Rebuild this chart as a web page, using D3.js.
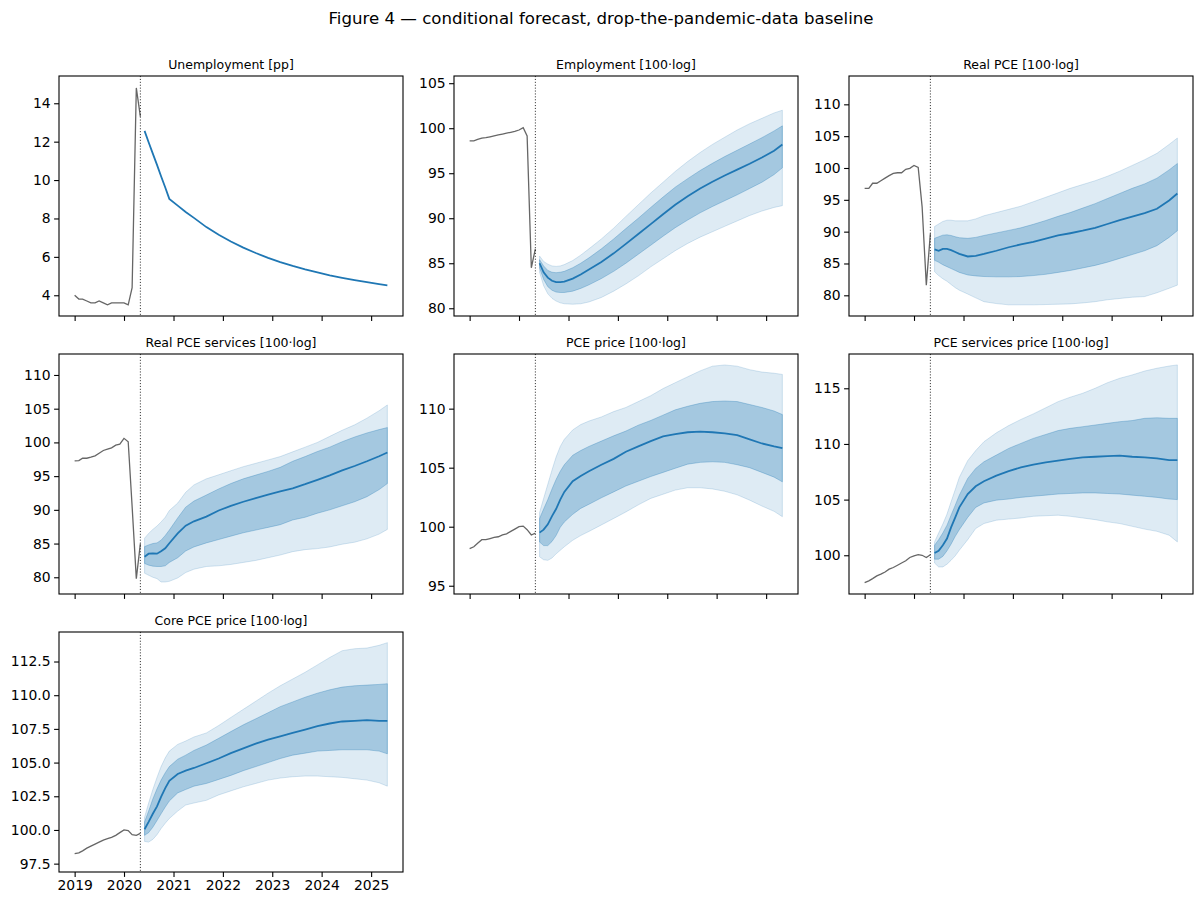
<!DOCTYPE html>
<html>
<head>
<meta charset="utf-8">
<script src="https://cdn.jsdelivr.net/npm/d3@7"></script>
<style>
  body { margin: 0; background: #fff; }
  text { font-family: "DejaVu Sans", sans-serif; fill: #000; }
</style>
</head>
<body>
<svg id="fig" width="1203" height="905"></svg>
<script>
// observed months, then the forecast months the values were read at
const histMonths = ["2019-01","2019-02","2019-03","2019-04","2019-05","2019-06","2019-07","2019-08","2019-09",
  "2019-10","2019-11","2019-12","2020-01","2020-02","2020-03","2020-04","2020-05"];
const fcMonths = ["2020-06","2020-07","2020-08","2020-09","2020-10","2020-11","2020-12","2021-02","2021-04",
  "2021-06","2021-09","2021-12","2022-03","2022-06","2022-09","2022-12","2023-03","2023-06","2023-09",
  "2023-12","2024-03","2024-06","2024-09","2024-12","2025-03","2025-05"];
const yearTicks = [2019, 2020, 2021, 2022, 2023, 2024, 2025];

// Unemployment (conditioned path, no bands)
const unempHist = [4.0,3.8,3.8,3.7,3.6,3.6,3.7,3.6,3.5,3.6,3.6,3.6,3.6,3.5,4.4,14.8,13.3];
const unempMed = [12.56,11.97,11.38,10.79,10.2,9.61,9.02,8.67,8.34,8.03,7.55,7.15,6.8,6.48,6.2,5.95,5.73,5.53,5.35,5.19,5.04,4.91,4.79,4.68,4.58,4.52];

// Employment
const emplHist = [98.6,98.6,98.75,98.9,98.95,99.05,99.15,99.25,99.35,99.45,99.55,99.65,99.8,100.05,99.15,84.5,86.6];
const emplLo2 = [84.0,82.5,81.6,81.1,80.8,80.6,80.5,80.45,80.5,80.7,81.2,81.9,82.7,83.6,84.6,85.5,86.4,87.2,87.9,88.5,89.1,89.7,90.3,90.8,91.2,91.4];
const emplLo1 = [84.5,83.2,82.4,82.0,81.8,81.75,81.75,81.9,82.2,82.6,83.3,84.1,85.0,86.0,87.0,88.0,88.95,89.8,90.6,91.3,91.95,92.6,93.3,94.0,94.85,95.6];
const emplMed = [85.0,84.0,83.4,83.05,82.9,82.9,82.95,83.3,83.75,84.3,85.15,86.1,87.15,88.25,89.35,90.45,91.5,92.45,93.3,94.05,94.75,95.4,96.05,96.75,97.5,98.2];
const emplHi1 = [85.4,84.7,84.2,84.0,83.95,84.0,84.1,84.5,85.0,85.6,86.6,87.7,88.85,90.0,91.2,92.35,93.45,94.4,95.3,96.1,96.85,97.55,98.25,98.95,99.7,100.26];
const emplHi2 = [85.8,85.2,84.9,84.7,84.65,84.7,84.85,85.3,85.9,86.6,87.7,88.9,90.2,91.5,92.8,94.0,95.2,96.3,97.3,98.2,99.0,99.8,100.5,101.1,101.7,102.0];

// Real PCE
const rpceHist = [96.8,96.8,97.6,97.6,98.0,98.4,98.8,99.15,99.25,99.25,99.8,99.95,100.4,100.1,93.9,81.6,89.7];
const rpceLo2 = [83.7,83.1,82.6,82.2,81.7,81.2,80.8,80.2,79.6,79.0,78.7,78.5,78.5,78.5,78.55,78.6,78.65,78.8,79.0,79.3,79.5,79.7,79.8,80.4,81.1,81.6];
const rpceLo1 = [85.5,85.2,84.8,84.5,84.2,83.9,83.6,83.2,83.05,82.95,82.9,82.9,82.95,83.1,83.3,83.6,83.9,84.3,84.7,85.2,85.8,86.4,87.0,87.8,89.1,90.15];
const rpceMed = [87.2,87.0,87.3,87.3,87.1,86.8,86.5,86.1,86.2,86.5,87.0,87.55,88.0,88.4,88.9,89.4,89.75,90.15,90.6,91.2,91.8,92.35,92.9,93.6,94.9,96.0];
const rpceHi1 = [88.95,89.2,89.45,89.5,89.4,89.2,89.05,88.95,89.1,89.4,89.8,90.2,90.6,91.15,91.75,92.4,93.0,93.7,94.4,95.2,96.0,96.8,97.5,98.4,99.7,100.7];
const rpceHi2 = [90.8,91.2,91.6,91.8,91.8,91.7,91.7,91.7,92.0,92.5,93.0,93.5,94.0,94.7,95.4,96.1,96.8,97.4,98.0,98.7,99.5,100.4,101.3,102.3,103.7,104.7];

// Real PCE services
const rsvcHist = [97.25,97.3,97.65,97.65,97.8,98.0,98.4,98.8,99.0,99.2,99.6,99.75,100.6,100.1,90.5,79.8,85.0];
const rsvcLo2 = [80.6,80.3,80.0,79.8,79.3,79.3,79.4,79.9,80.7,81.2,81.6,81.7,81.9,82.2,82.5,82.9,83.3,83.8,84.1,84.25,84.5,84.9,85.2,85.7,86.4,87.1];
const rsvcLo1 = [82.05,81.8,81.65,81.6,81.6,81.7,82.2,82.9,83.9,84.5,85.1,85.6,86.1,86.6,87.0,87.4,87.8,88.5,88.9,89.5,90.0,90.6,91.2,91.95,93.0,93.9];
const rsvcMed = [83.05,83.5,83.55,83.5,83.85,84.3,85.05,86.5,87.65,88.3,89.0,89.9,90.6,91.2,91.75,92.25,92.75,93.2,93.8,94.45,95.1,95.85,96.5,97.2,97.95,98.5];
const rsvcHi1 = [84.55,84.8,85.0,85.1,85.5,86.2,87.0,88.8,90.4,91.3,92.2,93.1,93.9,94.6,95.15,95.7,96.3,97.2,97.9,98.65,99.3,100.1,100.8,101.4,101.9,102.2];
const rsvcHi2 = [85.8,86.5,87.1,87.6,88.2,88.9,89.9,91.0,92.6,93.7,94.6,95.2,95.8,96.4,96.9,97.4,97.9,98.6,99.3,100.0,100.9,101.8,102.6,103.6,104.7,105.55];

// PCE price
const ppceHist = [98.15,98.3,98.6,98.9,98.9,99.0,99.1,99.15,99.3,99.4,99.6,99.8,100.0,100.05,99.75,99.3,99.45];
const ppceLo2 = [97.45,97.2,97.15,97.35,97.7,98.0,98.3,98.85,99.25,99.6,100.15,100.7,101.25,101.85,102.4,102.75,103.1,103.3,103.3,103.2,103.0,102.7,102.25,101.75,101.3,100.85];
const ppceLo1 = [98.7,98.4,98.4,98.75,99.25,99.95,100.4,101.05,101.55,101.9,102.45,102.95,103.45,103.85,104.25,104.6,104.95,105.3,105.45,105.5,105.45,105.25,105.0,104.6,104.2,103.8];
const ppceMed = [99.5,99.75,100.2,100.9,101.5,102.3,102.95,103.85,104.3,104.7,105.25,105.75,106.35,106.8,107.25,107.65,107.85,108.0,108.05,108.0,107.9,107.75,107.4,107.05,106.8,106.65];
const ppceHi1 = [100.7,101.5,102.3,103.2,104.0,104.7,105.25,106.05,106.45,106.8,107.25,107.7,108.1,108.6,109.0,109.45,109.9,110.2,110.45,110.6,110.65,110.6,110.35,110.1,109.8,109.5];
const ppceHi2 = [101.2,102.4,103.6,104.8,105.9,106.8,107.4,108.2,108.65,108.95,109.3,109.75,110.1,110.6,111.1,111.7,112.2,112.7,113.2,113.6,113.7,113.6,113.3,113.1,113.0,112.9];

// PCE services price
const spceHist = [97.55,97.7,97.9,98.15,98.3,98.5,98.75,98.9,99.1,99.3,99.5,99.8,99.95,100.05,100.0,99.8,100.05];
const spceLo2 = [99.3,98.95,98.95,99.2,99.55,99.95,100.45,101.4,102.4,102.85,103.15,103.25,103.35,103.5,103.55,103.6,103.5,103.35,103.2,103.0,102.85,102.6,102.35,102.15,101.8,101.2];
const spceLo1 = [99.65,99.65,99.9,100.4,101.0,101.7,102.3,103.4,104.3,104.7,104.95,105.05,105.2,105.3,105.4,105.5,105.55,105.6,105.6,105.55,105.5,105.4,105.3,105.2,105.05,105.0];
const spceMed = [100.2,100.4,100.9,101.5,102.5,103.4,104.3,105.5,106.2,106.65,107.15,107.55,107.9,108.15,108.35,108.5,108.65,108.8,108.85,108.9,108.95,108.85,108.8,108.7,108.55,108.55];
const spceHi1 = [100.9,101.4,102.0,102.7,103.6,104.5,105.4,106.9,107.8,108.4,109.0,109.6,110.05,110.5,110.85,111.2,111.4,111.55,111.7,111.85,112.0,112.1,112.3,112.35,112.3,112.3];
const spceHi2 = [101.2,102.0,102.8,103.7,104.8,105.9,107.0,108.5,109.4,110.2,111.0,111.65,112.2,112.7,113.25,113.8,114.2,114.55,115.0,115.5,115.9,116.2,116.55,116.8,117.0,117.1];

// Core PCE price
const cpceHist = [98.25,98.3,98.45,98.65,98.8,98.95,99.1,99.25,99.35,99.45,99.6,99.8,100.0,99.95,99.65,99.6,99.75];
const cpceLo2 = [99.15,99.1,99.3,99.65,100.1,100.5,100.85,101.4,101.85,102.0,102.2,102.6,102.9,103.2,103.45,103.7,103.85,103.95,104.0,104.0,103.95,103.9,103.8,103.7,103.5,103.25];
const cpceLo1 = [99.6,99.8,100.2,100.7,101.2,101.7,102.15,102.75,103.0,103.25,103.45,103.75,104.05,104.4,104.7,105.0,105.3,105.55,105.7,105.85,105.9,105.95,105.95,105.95,105.85,105.65];
const cpceMed = [100.05,100.6,101.2,101.75,102.45,103.1,103.65,104.15,104.4,104.6,104.95,105.3,105.7,106.05,106.4,106.7,106.95,107.2,107.45,107.7,107.9,108.05,108.1,108.15,108.1,108.1];
const cpceHi1 = [100.6,101.4,102.3,103.05,103.7,104.25,104.7,105.25,105.55,105.9,106.3,106.8,107.3,107.8,108.25,108.7,109.15,109.5,109.85,110.15,110.4,110.6,110.7,110.75,110.8,110.85];
const cpceHi2 = [100.95,102.0,103.0,103.9,104.7,105.35,105.85,106.35,106.6,106.9,107.2,107.75,108.35,108.95,109.55,110.15,110.7,111.2,111.7,112.25,112.8,113.3,113.45,113.5,113.7,113.9];

const panels = [
  { title: "Unemployment [pp]", hist: unempHist, med: unempMed, bands: null,
    yDomain: [2.92, 15.42], yTicks: [4, 6, 8, 10, 12, 14], fmt: "d" },
  { title: "Employment [100\u00b7log]", hist: emplHist, med: emplMed, bands: [emplLo2, emplLo1, emplHi1, emplHi2],
    yDomain: [79.14, 105.8], yTicks: [80, 85, 90, 95, 100, 105], fmt: "d" },
  { title: "Real PCE [100\u00b7log]", hist: rpceHist, med: rpceMed, bands: [rpceLo2, rpceLo1, rpceHi1, rpceHi2],
    yDomain: [76.75, 114.45], yTicks: [80, 85, 90, 95, 100, 105, 110], fmt: "d" },
  { title: "Real PCE services [100\u00b7log]", hist: rsvcHist, med: rsvcMed, bands: [rsvcLo2, rsvcLo1, rsvcHi1, rsvcHi2],
    yDomain: [77.52, 113.11], yTicks: [80, 85, 90, 95, 100, 105, 110], fmt: "d" },
  { title: "PCE price [100\u00b7log]", hist: ppceHist, med: ppceMed, bands: [ppceLo2, ppceLo1, ppceHi1, ppceHi2],
    yDomain: [94.3, 114.63], yTicks: [95, 100, 105, 110], fmt: "d" },
  { title: "PCE services price [100\u00b7log]", hist: spceHist, med: spceMed, bands: [spceLo2, spceLo1, spceHi1, spceHi2],
    yDomain: [96.52, 118.08], yTicks: [100, 105, 110, 115], fmt: "d" },
  { title: "Core PCE price [100\u00b7log]", hist: cpceHist, med: cpceMed, bands: [cpceLo2, cpceLo1, cpceHi1, cpceHi2],
    yDomain: [96.88, 114.69], yTicks: [97.5, 100, 102.5, 105, 107.5, 110, 112.5], fmt: ".1f" }
];

const svg = d3.select("#fig");
const W = 344, H = 240;
const colX = [59, 454, 849], rowY = [76, 354, 632];
const blue = "#1f77b4";

const parseMonth = d3.timeParse("%Y-%m");
const histDates = histMonths.map(parseMonth);
const fcDates = fcMonths.map(parseMonth);
const cutDate = histDates[histDates.length - 1];

// shared x axis with matplotlib-like 5% margins
const [d0, d1] = d3.extent(histDates.concat(fcDates));
const pad = (d1 - d0) * 0.05;
const x = d3.scaleTime().domain([new Date(+d0 - pad), new Date(+d1 + pad)]).range([0, W]);
const xTickDates = yearTicks.map(yr => new Date(yr, 0, 1));

svg.append("text")
  .attr("x", 601).attr("y", 24)
  .attr("text-anchor", "middle")
  .style("font-size", "16.6px")
  .text("Figure 4 \u2014 conditional forecast, drop-the-pandemic-data baseline");

panels.forEach((p, i) => {
  const g = svg.append("g")
    .attr("transform", `translate(${colX[i % 3]},${rowY[Math.floor(i / 3)]})`);
  const y = d3.scaleLinear().domain(p.yDomain).range([H, 0]);

  const clipId = "clip" + i;
  g.append("clipPath").attr("id", clipId)
    .append("rect").attr("width", W).attr("height", H);
  const plot = g.append("g").attr("clip-path", `url(#${clipId})`);

  if (p.bands) {
    const [lo2, lo1, hi1, hi2] = p.bands;
    const band = (lo, hi) => d3.area()
      .x((d, k) => x(fcDates[k]))
      .y0((d, k) => y(lo[k]))
      .y1((d, k) => y(hi[k]))(fcDates);
    plot.append("path").attr("d", band(lo2, hi2))
      .attr("fill", blue).attr("fill-opacity", 0.15)
      .attr("stroke", blue).attr("stroke-opacity", 0.18).attr("stroke-width", 1);
    plot.append("path").attr("d", band(lo1, hi1))
      .attr("fill", blue).attr("fill-opacity", 0.3)
      .attr("stroke", blue).attr("stroke-opacity", 0.3).attr("stroke-width", 1);
  }

  const line = d3.line().x(d => x(d[0])).y(d => y(d[1]));
  plot.append("path")
    .attr("d", line(d3.zip(fcDates, p.med)))
    .attr("fill", "none").attr("stroke", blue).attr("stroke-width", 1.8);
  plot.append("path")
    .attr("d", line(d3.zip(histDates, p.hist)))
    .attr("fill", "none").attr("stroke", "#666").attr("stroke-width", 1.3);

  plot.append("line")
    .attr("x1", x(cutDate)).attr("x2", x(cutDate))
    .attr("y1", 0).attr("y2", H)
    .attr("stroke", "#000").attr("stroke-width", 0.8)
    .attr("stroke-dasharray", "1.1,1.8");

  // axes
  const yAxis = g.append("g")
    .call(d3.axisLeft(y).tickValues(p.yTicks).tickFormat(d3.format(p.fmt))
      .tickSize(4.9).tickPadding(3.5));
  const xAxis = g.append("g").attr("transform", `translate(0,${H})`)
    .call(d3.axisBottom(x).tickValues(xTickDates)
      .tickFormat(i === 6 ? d3.timeFormat("%Y") : () => "")
      .tickSize(4.9).tickPadding(3.5));
  [yAxis, xAxis].forEach(a => {
    a.select(".domain").remove();
    a.selectAll(".tick line").attr("stroke", "#000").attr("stroke-width", 1.1);
    a.selectAll(".tick text")
      .style("font-family", '"DejaVu Sans", sans-serif')
      .style("font-size", "13.9px").attr("fill", "#000");
  });

  g.append("rect")
    .attr("width", W).attr("height", H)
    .attr("fill", "none").attr("stroke", "#000").attr("stroke-width", 1.1);

  g.append("text")
    .attr("x", W / 2).attr("y", -7)
    .attr("text-anchor", "middle")
    .style("font-size", "12.5px")
    .text(p.title);
});
</script>
</body>
</html>
